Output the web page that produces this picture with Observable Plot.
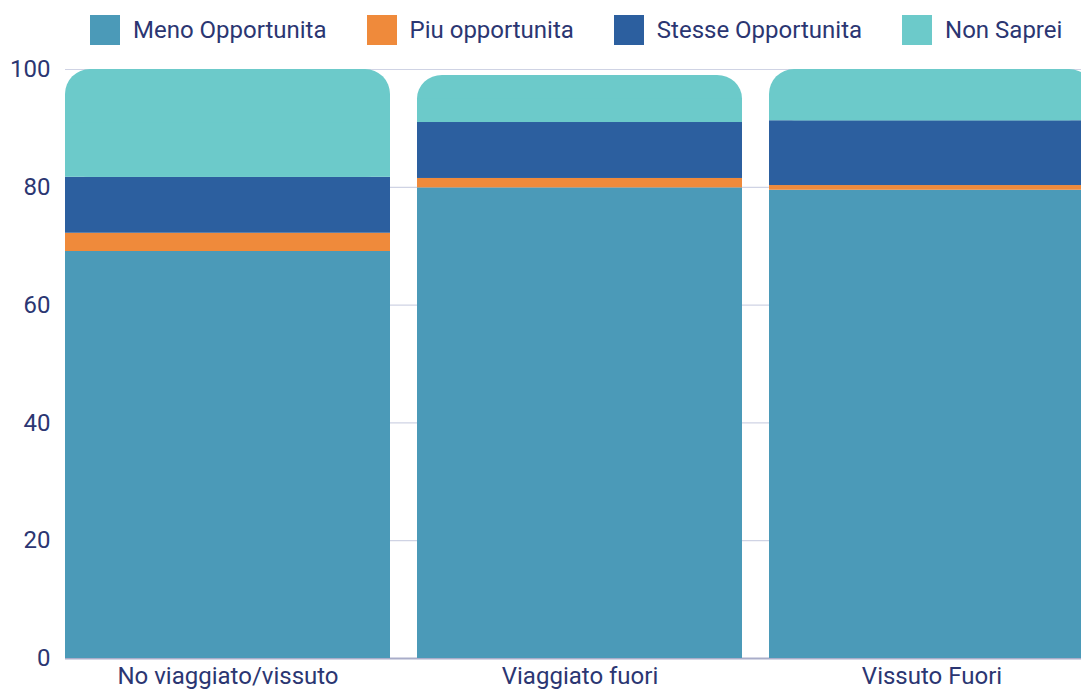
<!DOCTYPE html>
<html>
<head>
<meta charset="utf-8">
<script src="https://cdn.jsdelivr.net/npm/d3@7"></script>
<script src="https://cdn.jsdelivr.net/npm/@observablehq/plot@0.6"></script>
<style>
  html, body { margin: 0; padding: 0; background: #fff; overflow: hidden; }
  body { width: 1081px; height: 693px; font-family: Roboto, sans-serif; color: #2b3672; }
  #legend { height: 55px; display: flex; align-items: flex-start; padding-left: 90px; box-sizing: border-box; padding-top: 15px; }
  .item { display: flex; align-items: center; margin-right: 40px; font-size: 24px; line-height: 30px; white-space: nowrap; }
  .sw { width: 30px; height: 30px; margin-right: 13px; flex: none; }
  svg { display: block; overflow: hidden; }
</style>
</head>
<body>
<div id="legend"></div>
<div id="chart"></div>
<script>
const categories = ["No viaggiato/vissuto", "Viaggiato fuori", "Vissuto Fuori"];
const seriesNames = ["Meno Opportunita", "Piu opportunita", "Stesse Opportunita", "Non Saprei"];
const seriesColors = ["#4b9ab8", "#ef8a3b", "#2c5f9f", "#6ccaca"];
const meno = [69.1, 79.9, 79.5];
const piu = [3.1, 1.6, 0.8];
const stesse = [9.5, 9.5, 11.0];
const nonSaprei = [18.3, 8.0, 8.7];
const yTicks = [0, 20, 40, 60, 80, 100];

// legend
const legendDiv = document.getElementById("legend");
seriesNames.forEach((s, i) => {
  const it = document.createElement("div");
  it.className = "item";
  const sw = document.createElement("div");
  sw.className = "sw";
  sw.style.background = seriesColors[i];
  it.appendChild(sw);
  const t = document.createElement("span");
  t.textContent = s;
  it.appendChild(t);
  legendDiv.appendChild(it);
});

const lowerRows = [];
categories.forEach((c, i) => {
  [meno, piu, stesse].forEach((arr, j) => lowerRows.push({cat: c, series: seriesNames[j], value: arr[i]}));
});
const topRows = categories.map((c, i) => {
  const base = meno[i] + piu[i] + stesse[i];
  const total = base + nonSaprei[i];
  return {cat: c, series: seriesNames[3], y1: base, y2: total, mid: (base + total) / 2};
});

const chart = Plot.plot({
  width: 1081,
  height: 638,
  marginTop: 14,
  marginBottom: 35,
  marginLeft: 65,
  marginRight: 0,
  style: {fontFamily: "Roboto, sans-serif", fontSize: "24px", color: "#2b3672", background: "#fff", overflow: "hidden"},
  x: {type: "band", domain: categories, range: [65, 1094], paddingInner: 0.077, paddingOuter: 0, label: null},
  y: {domain: [0, 100], label: null},
  color: {domain: seriesNames, range: seriesColors},
  marks: [
    Plot.gridY(yTicks, {stroke: "#cfd3e4", strokeOpacity: 1, strokeWidth: 1.2}),
    Plot.ruleY([0], {stroke: "#a9adc9", strokeWidth: 2}),
    Plot.barY(lowerRows, Plot.stackY({x: "cat", y: "value", fill: "series", order: seriesNames.slice(0, 3)})),
    Plot.barY(topRows, {x: "cat", y1: "y1", y2: "y2", fill: "series", rx: 25, ry: 25}),
    Plot.barY(topRows, {x: "cat", y1: "y1", y2: "mid", fill: "series"}),
    Plot.axisY({ticks: yTicks, tickSize: 0, tickPadding: 15, label: null, fontSize: 24}),
    Plot.axisX({tickSize: 0, tickPadding: 8, label: null, fontSize: 24})
  ]
});
document.getElementById("chart").appendChild(chart);
</script>
</body>
</html>
